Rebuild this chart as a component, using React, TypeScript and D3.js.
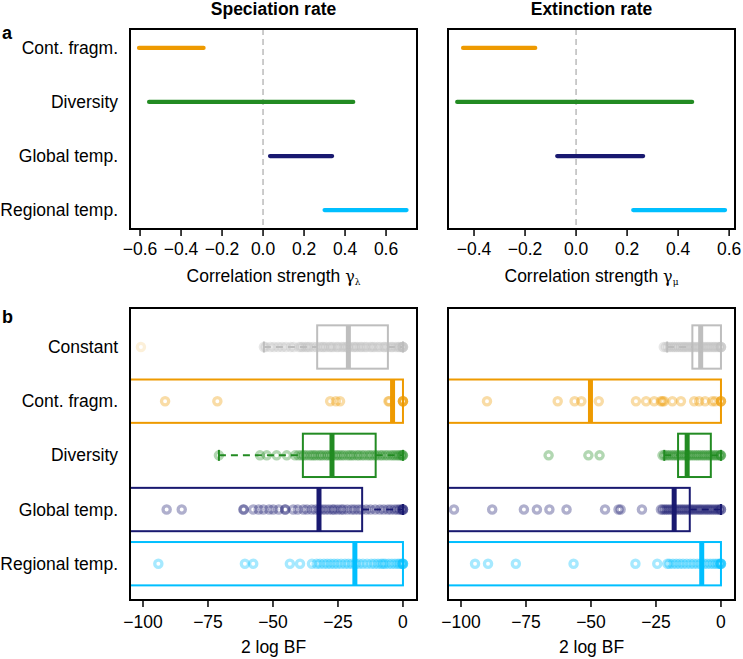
import React from "react";
import * as d3 from "d3";

// ---------- DATA ----------
const corrRows = ["Cont. fragm.", "Diversity", "Global temp.", "Regional temp."];
const corrColors = ["#EE9A00", "#228B22", "#191970", "#00BFFF"];
const specLow = [-0.605, -0.556, 0.034, 0.3];
const specHigh = [-0.29, 0.44, 0.337, 0.7];
const extLow = [-0.443, -0.466, -0.074, 0.224];
const extHigh = [-0.16, 0.455, 0.263, 0.584];
const specCorrTicks = [-0.6, -0.4, -0.2, 0.0, 0.2, 0.4, 0.6];
const extCorrTicks = [-0.4, -0.2, 0.0, 0.2, 0.4, 0.6];

const bfRows = ["Constant", "Cont. fragm.", "Diversity", "Global temp.", "Regional temp."];
const bfColors = ["#BEBEBE", "#EE9A00", "#228B22", "#191970", "#00BFFF"];
const bfTicks = [-100, -75, -50, -25, 0];

// box statistics (speciation)
const specQ1 = [-33, -130, -38.5, -130, -130];
const specMed = [-21, -4, -27.3, -32.3, -18.5];
const specQ3 = [-5.8, 0, -10.5, -15.7, 0];
const specWLo = [-53.5, -130, -70.8, -130, -130];
const specWHi = [0, 0, 0, 0, 0];
// extinction
const extQ1 = [-11, -130, -16.5, -130, -130];
const extMed = [-7.8, -50.2, -13, -18, -7.4];
const extQ3 = [0, 0, -3.9, -12, 0];
const extWLo = [-20.7, -130, -21.8, -130, -130];
const extWHi = [0, 0, 0, 0, 0];

// individual points, speciation
const specPtsConstant = [-53.5, -52.8, -51, -49.6, -48, -46.5, -45, -43.2, -42, -40, -39.2, -38.5, -37.4, -36.6, -35.8, -34.5, -33.2, -32, -31.1, -30.4, -29.5, -28.3, -27.6, -26.8, -25.5, -24.9, -23.7, -22.8, -21.9, -21.2, -20.3, -19.1, -18.4, -17.6, -16.5, -15.8, -14.7, -13.9, -12.6, -11.8, -10.9, -9.7, -8.8, -7.5, -6.9, -5.8, -4.6, -3.9, -2.7, -1.8, -1.1, -0.4, 0, 0, 0];
const specPtsContFragm = [-91.5, -71.4, -28, -25.8, -24.2, -5.3, -5.6, 0, 0, 0, 0];
const specPtsDiversity = [-70.8, -55, -52.4, -48.6, -44.7, -41.5, -40.2, -39, -38.1, -37.2, -36, -35.1, -34.3, -33.5, -32.4, -31.6, -30.8, -29.7, -28.9, -28, -27.2, -26.1, -25.3, -24.4, -23.5, -22.6, -21.4, -20.5, -19.7, -18.8, -17.6, -16.9, -15.8, -14.9, -13.7, -12.8, -11.9, -10.8, -9.9, -8.7, -7.9, -6.8, -5.9, -4.8, -3.9, -3.1, -2.2, -1.5, -0.8, -0.3, 0, 0];
const specPtsGlobal = [-90.9, -85.1, -61.4, -61.2, -57.6, -55.5, -53.7, -51.5, -49.9, -47.8, -45.4, -45.2, -42.2, -40.5, -38.3, -36.9, -35.1, -33.6, -32.2, -31, -29.8, -28.5, -27.2, -26.4, -25.1, -23.8, -22.9, -21.4, -19.8, -18.6, -17.2, -15.9, -14.1, -12.5, -10.7, -8.9, -7.4, -5.8, -4.6, -3.2, -2.1, -1.2, -0.5, 0, 0, 0];
const specPtsRegional = [-94.1, -60.8, -57.6, -43.5, -39.6, -35, -33.2, -31.9, -30.4, -29.1, -27.8, -26.5, -25.2, -23.8, -22.3, -21, -19.6, -18.2, -16.9, -15.4, -13.8, -12.2, -10.9, -9.6, -8.4, -7.6, -6.8, -5.5, -4.3, -3.1, -2, -1.2, -0.4, 0, 0, 0];
const specStray = [-100.8];

// individual points, extinction
const extPtsConstant = [-22, -21.2, -20.4, -19.6, -18.7, -17.9, -17.1, -16.2, -15.4, -14.6, -13.9, -13.1, -12.3, -11.5, -10.8, -10, -9.2, -8.5, -7.7, -6.9, -6.1, -5.3, -4.6, -3.8, -3, -2.3, -1.5, -0.8, 0, 0, 0];
const extPtsContFragm = [-90, -62.8, -56.3, -53.7, -47, -32.7, -28.8, -25.7, -23.1, -22.5, -21.9, -18.7, -15.4, -10.3, -8.4, -6.1, -3.3, -2.2, 0, 0, 0];
const extPtsDiversity = [-66.3, -51, -46.7, -22.5, -21.8, -21, -20.3, -19.5, -18.6, -17.9, -17.1, -16.4, -15.6, -14.8, -14, -13.3, -12.5, -11.8, -11, -10.2, -9.4, -8.7, -7.9, -7.1, -6.4, -5.6, -4.8, -4.1, -3.3, -2.5, -1.8, -1, -0.3, 0, 0];
const extPtsGlobal = [-102.7, -88, -75.8, -70.8, -66, -59.4, -44.6, -39.4, -38.6, -30.4, -23.1, -22.4, -21.6, -20.9, -20.1, -19.3, -18.5, -17.8, -17, -16.2, -15.4, -14.7, -13.9, -13.1, -12.3, -11.6, -10.8, -10, -9.2, -8.4, -7.7, -6.9, -6.1, -5.3, -4.6, -3.8, -3, -2.2, -1.4, -0.7, 0, 0];
const extPtsRegional = [-94.6, -89.6, -78.9, -56.7, -32.9, -24.5, -20.6, -19.8, -18.5, -17.2, -15.9, -14.6, -13.2, -11.8, -10.5, -9.1, -7.8, -6.5, -5.3, -4.1, -3, -2, -1.1, -0.4, 0, 0, 0];

const specPts = [specPtsConstant, specPtsContFragm, specPtsDiversity, specPtsGlobal, specPtsRegional];
const extPts = [extPtsConstant, extPtsContFragm, extPtsDiversity, extPtsGlobal, extPtsRegional];

// ---------- LAYOUT ----------
const FONT = "'Liberation Sans', Arial, Helvetica, sans-serif";
const LX0 = 130, LX1 = 417, RX0 = 448, RX1 = 735;
const TY0 = 29, TY1 = 229, BY0 = 308, BY1 = 600;
const FS = 17.5;

const fmtMinus = (s: string) => s.replace("-", "\u2212");

function CorrPanel({ x0, x1, domain, ticks, lows, highs, sub }: any) {
  const x = d3.scaleLinear().domain(domain).range([x0, x1]);
  const y = d3.scaleLinear().domain([-0.35, 3.35]).range([TY0, TY1]);
  const cx = (x0 + x1) / 2;
  return (
    <g>
      <line x1={x(0)} x2={x(0)} y1={TY0} y2={TY1} stroke="#BBBBBB" strokeWidth={1.5} strokeDasharray="6 4" />
      {corrRows.map((r, i) => (
        <line key={r} x1={x(lows[i])} x2={x(highs[i])} y1={y(i)} y2={y(i)} stroke={corrColors[i]} strokeWidth={4.2} strokeLinecap="round" />
      ))}
      <rect x={x0} y={TY0} width={x1 - x0} height={TY1 - TY0} fill="none" stroke="#000" strokeWidth={2} />
      {ticks.map((t: number) => (
        <g key={t}>
          <line x1={x(t)} x2={x(t)} y1={TY1} y2={TY1 + 7} stroke="#000" strokeWidth={1.5} />
          <text x={x(t)} y={255} textAnchor="middle" fontSize={FS} fontFamily={FONT}>{fmtMinus(d3.format(".1f")(t))}</text>
        </g>
      ))}
      <text x={cx} y={282} textAnchor="middle" fontSize={FS} fontFamily={FONT}>
        Correlation strength <tspan fontFamily="'DejaVu Serif', serif" fontSize={16}>γ</tspan><tspan fontSize={9} dy={3} fontFamily="'DejaVu Serif', serif">{sub}</tspan>
      </text>
    </g>
  );
}

function BFPanel({ x0, x1, q1, med, q3, wlo, whi, pts, stray, clipId }: any) {
  const x = d3.scaleLinear().domain([-105, 5.4]).range([x0, x1]);
  const y = d3.scaleLinear().domain([-0.72, 4.67]).range([BY0, BY1]);
  const hw = 0.4 * (y(1) - y(0));
  const sw = 5.5;
  return (
    <g>
      <defs>
        <clipPath id={clipId}>
          <rect x={x0} y={BY0} width={x1 - x0} height={BY1 - BY0} />
        </clipPath>
      </defs>
      <g clipPath={`url(#${clipId})`}>
        {bfRows.map((r, i) => {
          const c = bfColors[i];
          const yc = y(i);
          return (
            <g key={r}>
              {wlo[i] < q1[i] && (
                <g>
                  <line x1={x(wlo[i])} x2={x(q1[i])} y1={yc} y2={yc} stroke={c} strokeWidth={2} strokeDasharray="7 5" />
                  <line x1={x(wlo[i])} x2={x(wlo[i])} y1={yc - sw} y2={yc + sw} stroke={c} strokeWidth={2} />
                </g>
              )}
              {whi[i] > q3[i] && (
                <line x1={x(q3[i])} x2={x(whi[i])} y1={yc} y2={yc} stroke={c} strokeWidth={2} strokeDasharray="7 5" />
              )}
              <line x1={x(whi[i])} x2={x(whi[i])} y1={yc - sw} y2={yc + sw} stroke={c} strokeWidth={2} />
              <rect x={x(q1[i])} y={yc - hw} width={x(q3[i]) - x(q1[i])} height={2 * hw} fill="none" stroke={c} strokeWidth={2} />
              <line x1={x(med[i])} x2={x(med[i])} y1={yc - hw} y2={yc + hw} stroke={c} strokeWidth={5} />
              {pts[i].map((v: number, k: number) => (
                <circle key={k} cx={x(v)} cy={yc} r={3.6} fill="none" stroke={c} strokeOpacity={0.35} strokeWidth={3.3} />
              ))}
            </g>
          );
        })}
        {stray.map((v: number, k: number) => (
          <circle key={"s" + k} cx={x(v)} cy={y(0)} r={3.6} fill="none" stroke={bfColors[1]} strokeOpacity={0.15} strokeWidth={3.3} />
        ))}
      </g>
      <rect x={x0} y={BY0} width={x1 - x0} height={BY1 - BY0} fill="none" stroke="#000" strokeWidth={2} />
      {bfTicks.map((t) => (
        <g key={t}>
          <line x1={x(t)} x2={x(t)} y1={BY1} y2={BY1 + 7} stroke="#000" strokeWidth={1.5} />
          <text x={x(t)} y={628} textAnchor="middle" fontSize={FS} fontFamily={FONT}>{fmtMinus(String(t))}</text>
        </g>
      ))}
      <text x={(x0 + x1) / 2} y={653} textAnchor="middle" fontSize={FS} fontFamily={FONT}>2 log BF</text>
    </g>
  );
}

export default function App() {
  const yTop = d3.scaleLinear().domain([-0.35, 3.35]).range([TY0, TY1]);
  const yBot = d3.scaleLinear().domain([-0.72, 4.67]).range([BY0, BY1]);
  return (
    <svg width={743} height={659} style={{ position: "absolute", left: 0, top: 0, background: "#fff" }}>
      <rect x={0} y={0} width={743} height={659} fill="#fff" />
      <text x={(LX0 + LX1) / 2} y={15} textAnchor="middle" fontSize={17.5} fontWeight="bold" fontFamily={FONT}>Speciation rate</text>
      <text x={(RX0 + RX1) / 2} y={15} textAnchor="middle" fontSize={17.5} fontWeight="bold" fontFamily={FONT}>Extinction rate</text>
      <text x={2} y={39} fontSize={18} fontWeight="bold" fontFamily={FONT}>a</text>
      <text x={2} y={323} fontSize={18} fontWeight="bold" fontFamily={FONT}>b</text>
      {corrRows.map((r, i) => (
        <text key={r} x={118} y={yTop(i)} dy="0.35em" textAnchor="end" fontSize={FS} fontFamily={FONT}>{r}</text>
      ))}
      {bfRows.map((r, i) => (
        <text key={r} x={118} y={yBot(i)} dy="0.35em" textAnchor="end" fontSize={FS} fontFamily={FONT}>{r}</text>
      ))}
      <CorrPanel x0={LX0} x1={LX1} domain={[-0.649, 0.751]} ticks={specCorrTicks} lows={specLow} highs={specHigh} sub="λ" />
      <CorrPanel x0={RX0} x1={RX1} domain={[-0.502, 0.623]} ticks={extCorrTicks} lows={extLow} highs={extHigh} sub="μ" />
      <BFPanel x0={LX0} x1={LX1} q1={specQ1} med={specMed} q3={specQ3} wlo={specWLo} whi={specWHi} pts={specPts} stray={specStray} clipId="clipL" />
      <BFPanel x0={RX0} x1={RX1} q1={extQ1} med={extMed} q3={extQ3} wlo={extWLo} whi={extWHi} pts={extPts} stray={[]} clipId="clipR" />
    </svg>
  );
}
